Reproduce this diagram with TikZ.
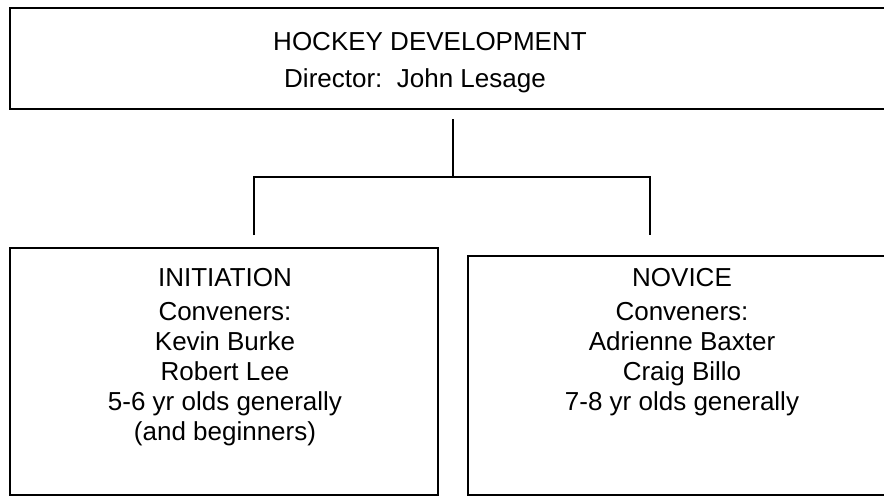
\documentclass[tikz,border=0pt]{standalone}
\usepackage{fontspec}
\setmainfont{Liberation Sans}
\begin{document}
\begin{tikzpicture}[x=1pt,y=-1pt,
    box/.style={draw, line width=1.8pt, inner sep=0pt, anchor=north west},
    boxtext/.style={align=center, inner sep=0pt, anchor=north, font=\fontsize{26}{30}\selectfont},
    link/.style={line width=1.4pt}]
    \clip (0,0) rectangle (884,496);

    % 顶部框
    \node[box, minimum width=891pt, minimum height=101pt] (dev) at (9,7) {};
    \node[boxtext] (devtxt) at (430,32) {HOCKEY DEVELOPMENT\\[7pt]Director:\ \ John Lesage\hspace*{30pt}};

    % 下层两个框
    \node[box, minimum width=428pt, minimum height=247pt] (init) at (9,247) {};
    \node[box, minimum width=428pt, minimum height=239pt] (novice) at (467,255) {};

    \node[boxtext] (inittxt) at (225,268) {INITIATION\\[4pt]Conveners:\\Kevin Burke\\Robert Lee\\5-6 yr olds generally\\(and beginners)};
    \node[boxtext] (novicetxt) at (682,268) {NOVICE\\[4pt]Conveners:\\Adrienne Baxter\\Craig Billo\\7-8 yr olds generally};

    % 连接线
    \coordinate (trunk) at (453,119);
    \coordinate (fork) at (453,177);
    \coordinate (forkl) at (254,177);
    \coordinate (forkr) at (650,177);
    \coordinate (dropl) at (254,235);
    \coordinate (dropr) at (650,235);

    \draw[link] (trunk) -- (fork);
    \draw[link] (dropl) -- (forkl) -- (forkr) -- (dropr);
\end{tikzpicture}
\end{document}
